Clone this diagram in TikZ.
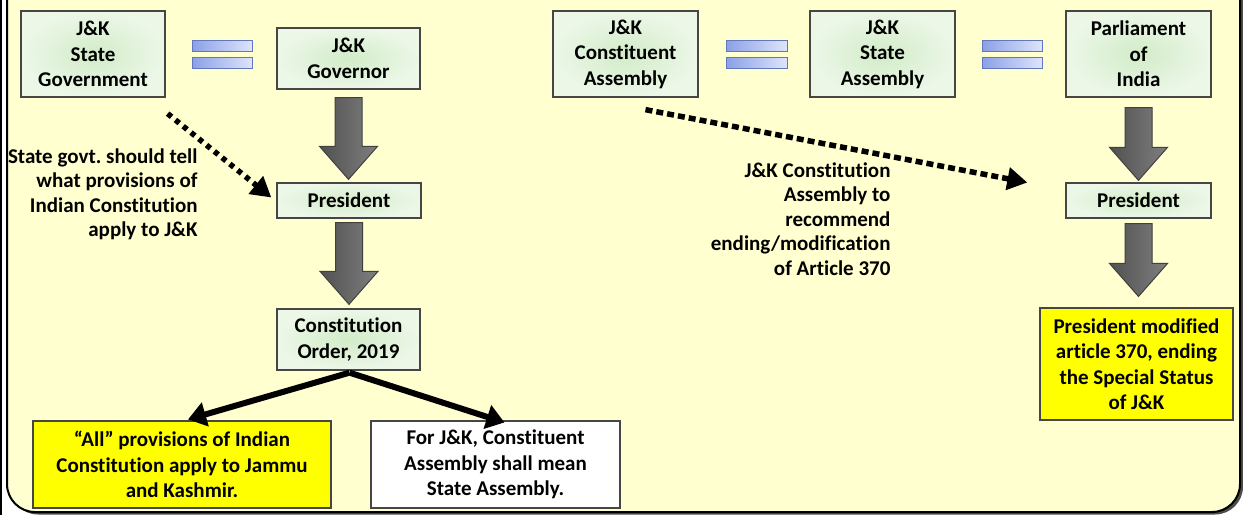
\documentclass[tikz,border=0pt]{standalone}
\usepackage{fontspec}
\setmainfont{Carlito}[Ligatures={NoCommon}]
\frenchspacing
\usetikzlibrary{arrows.meta,calc}
\definecolor{bgyellow}{RGB}{255,255,208}
\definecolor{boxin}{RGB}{210,236,200}
\definecolor{boxout}{RGB}{236,247,232}
\definecolor{boxline}{RGB}{70,70,70}
\definecolor{barleft}{RGB}{140,160,230}
\definecolor{barright}{RGB}{222,228,250}
\definecolor{barline}{RGB}{95,120,190}
\definecolor{hiyellow}{RGB}{255,255,0}
\definecolor{arrowgray}{RGB}{95,95,95}
\tikzset{
  txt/.style={font=\fontsize{21}{25.5}\selectfont\bfseries, align=center, text=black},
  greenbox/.style={txt, draw=boxline, line width=1.3pt, inner color=boxin, outer color=boxout, inner sep=0pt},
  yellowbox/.style={txt, draw=boxline, line width=1.1pt, fill=hiyellow, inner sep=0pt},
  whitebox/.style={txt, draw=boxline, line width=1.1pt, fill=white, inner sep=0pt},
  eqbar/.style={draw=barline, line width=0.9pt, left color=barleft, right color=barright},
  blockarr/.style={draw=black!75, line width=1pt, left color=arrowgray!85!black, right color=arrowgray!80},
  dotarrow/.style={line width=5.5pt, dash pattern=on 5pt off 5pt, -{Triangle[length=20pt,width=22pt]}},
  fatarrow/.style={line width=6pt, -{Triangle[length=18pt,width=24pt]}},
  lbl/.style={font=\fontsize{21}{24.5}\selectfont\bfseries, align=right}
}
\newcommand\blockarrow[2]{%
  \path let \p1=(#1), \p2=(#2) in
    [blockarr] (\x1-13.5pt,\y1) -- (\x1+13.5pt,\y1) -- (\x1+13.5pt,\y2+33pt) -- (\x1+29pt,\y2+33pt)
    -- (\x1,\y2) -- (\x1-29pt,\y2+33pt) -- (\x1-13.5pt,\y2+33pt) -- cycle;}
\begin{document}
\begin{tikzpicture}[x=1pt,y=-1pt]
\useasboundingbox (0,0) rectangle (1243,515);
% frame
\fill[black!70, rounded corners=28pt] (10,-40) rectangle (1243,514.5);
\draw[black, line width=2pt, fill=bgyellow, rounded corners=28pt] (7,-40) rectangle (1240,512);
\draw[black, line width=1.5pt] (0.8,0) -- (0.8,515);

% top row left
\node[greenbox, minimum width=144pt, minimum height=86pt] (sg) at (93,54) {J\&K\\State\\Government};
\node[greenbox, minimum width=143pt, minimum height=61pt] (gov) at (348.5,58.5) {J\&K\\Governor};
\node[greenbox, minimum width=144pt, minimum height=35pt] (pres1) at (349,200.5) {President};
\node[greenbox, minimum width=143pt, minimum height=61pt] (co) at (348.5,339.5) {Constitution\\Order, 2019};
\node[yellowbox, minimum width=298pt, minimum height=87pt] (all) at (182,464.5) {“All” provisions of Indian\\Constitution apply to Jammu\\and Kashmir.};
\node[whitebox, minimum width=249pt, minimum height=87pt] (ca2) at (495.5,464.5) {For J\&K, Constituent\\Assembly shall mean\\State Assembly.};

% top row right
\node[greenbox, minimum width=145pt, minimum height=86pt] (ca) at (625.5,54) {J\&K\\Constituent\\Assembly};
\node[greenbox, minimum width=145pt, minimum height=86pt] (sa) at (882.5,54) {J\&K\\State\\Assembly};
\node[greenbox, minimum width=145pt, minimum height=86pt] (par) at (1138.5,54) {Parliament\\of\\India};
\node[greenbox, minimum width=145pt, minimum height=35pt] (pres2) at (1138.5,200.5) {President};
\node[yellowbox, minimum width=193pt, minimum height=112pt] (ym) at (1136.5,364) {President modified\\article 370, ending\\the Special Status\\of J\&K};

% equals signs
\path[eqbar] (192,40) rectangle (252,51);
\path[eqbar] (192,57) rectangle (252,68);
\path[eqbar] (726,40) rectangle (787,51);
\path[eqbar] (726,57) rectangle (787,68);
\path[eqbar] (982,40) rectangle (1042,51);
\path[eqbar] (982,57) rectangle (1042,68);

% block arrows
\coordinate (a1s) at ($(gov.south)+(0,8)$);
\coordinate (a1e) at ($(pres1.north)+(0,-3)$);
\blockarrow{a1s}{a1e}
\coordinate (a2s) at ($(pres1.south)+(0,4)$);
\coordinate (a2e) at ($(co.north)+(0,-4)$);
\blockarrow{a2s}{a2e}
\coordinate (a3s) at ($(par.south)+(0,10)$);
\coordinate (a3e) at ($(pres2.north)+(0,-2)$);
\blockarrow{a3s}{a3e}
\coordinate (a4s) at ($(pres2.south)+(0,5)$);
\coordinate (a4e) at ($(ym.north)+(0,-11)$);
\blockarrow{a4s}{a4e}

% dotted arrows
\draw[dotarrow] ($(sg.south east)+(2,16)$) -- ($(pres1.west)+(-5,-3)$);
\draw[dotarrow, dash pattern=on 7pt off 4pt] ($(ca.south)+(20,12)$) -- ($(pres2.west)+(-38,-18)$);

% fat arrows
\coordinate (cos) at ($(co.south)+(1,2)$);
\draw[fatarrow] (cos) -- ($(all.north)+(6,-1)$);
\draw[fatarrow] (cos) -- ($(ca2.north)+(9,2)$);

% labels
\node[lbl, anchor=east] (l1) at (201,194.5) {State govt. should tell\\what provisions of\\Indian Constitution\\apply to J\&K};
\node[lbl, anchor=east] (l2) at (894,219) {J\&K Constitution\\Assembly to\\recommend\\ending/modification\\of Article 370};
\end{tikzpicture}
\end{document}
